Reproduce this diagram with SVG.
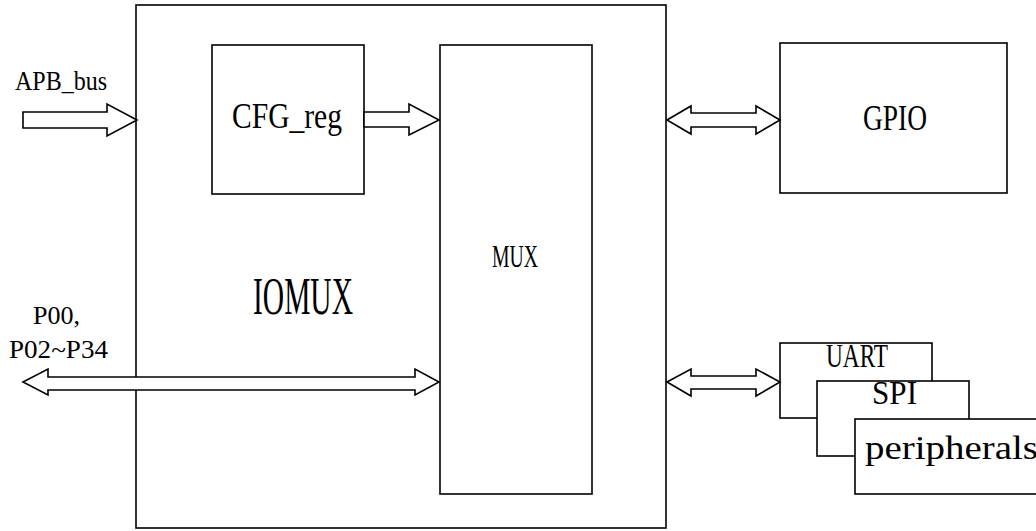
<svg xmlns="http://www.w3.org/2000/svg" width="1036" height="531" viewBox="0 0 1036 531">
<style>
.box{fill:#fff;stroke:#000;stroke-width:1.6}
.arr{fill:#fff;stroke:#000;stroke-width:1.6;stroke-linejoin:miter}
text{font-family:"Liberation Serif","DejaVu Serif",serif;fill:#000}
</style>
<rect width="1036" height="531" fill="#fff"/>
<g id="iomux">
<rect class="box" x="136" y="5" width="530" height="523"/>
<text x="253" y="314" font-size="52" textLength="100" lengthAdjust="spacingAndGlyphs">IOMUX</text>
</g>
<g id="cfg_reg">
<rect class="box" x="212" y="45" width="152" height="149"/>
<text x="232" y="128" font-size="35" textLength="110" lengthAdjust="spacingAndGlyphs">CFG_reg</text>
</g>
<g id="mux">
<rect class="box" x="440" y="45" width="152" height="449"/>
<text x="492" y="267" font-size="32" textLength="46" lengthAdjust="spacingAndGlyphs">MUX</text>
</g>
<g id="gpio">
<rect class="box" x="780" y="43" width="227" height="150"/>
<text x="863" y="130" font-size="35" textLength="64" lengthAdjust="spacingAndGlyphs">GPIO</text>
</g>
<g id="uart">
<rect class="box" x="780" y="343" width="152" height="75"/>
<text x="826" y="367" font-size="33" textLength="62" lengthAdjust="spacingAndGlyphs">UART</text>
</g>
<g id="spi">
<rect class="box" x="817" y="381" width="152" height="75"/>
<text x="872" y="404" font-size="33" textLength="45" lengthAdjust="spacingAndGlyphs">SPI</text>
</g>
<g id="peripherals">
<rect class="box" x="855" y="419" width="200" height="75"/>
<text x="865" y="459" font-size="34" textLength="173" lengthAdjust="spacingAndGlyphs">peripherals</text>
</g>
<g id="labels">
<text x="15" y="90" font-size="28" textLength="92" lengthAdjust="spacingAndGlyphs">APB_bus</text>
<text x="33" y="324" font-size="26" textLength="47" lengthAdjust="spacingAndGlyphs">P00,</text>
<text x="9" y="358" font-size="26" textLength="99" lengthAdjust="spacingAndGlyphs">P02~P34</text>
</g>
<g id="connectors">
<polygon class="arr" points="23,112 107,112 107,104 137,120 107,136 107,128 23,128"/>
<polygon class="arr" points="364,112 409,112 409,104 439,120 409,135 409,127 364,127"/>
<polygon class="arr" points="667,120 691,106 691,113 756,113 756,106 780,120 756,134 756,127 691,127 691,134"/>
<polygon class="arr" points="667,382 691,369 691,376 756,376 756,369 780,382 756,396 756,389 691,389 691,396"/>
<polygon class="arr" points="23,382 48,369 48,377 415,377 415,369 439,382 415,395 415,390 48,390 48,395"/>
</g>
</svg>
